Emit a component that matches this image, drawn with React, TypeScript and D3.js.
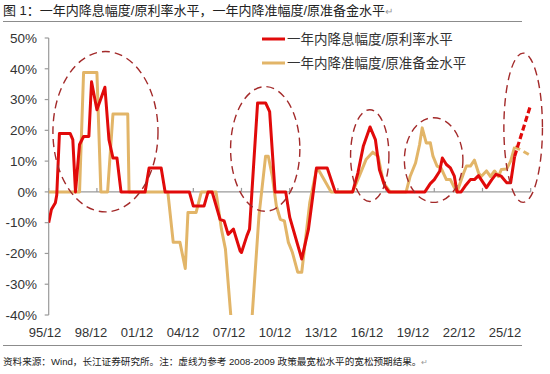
import * as d3 from 'd3';
import React from 'react';

// 一年内降息幅度/原利率水平 (实线) 与 预期 (虚线)
const rateDates = [
	'1995-12', '1996-02', '1996-05', '1996-06', '1996-08', '1997-04', '1997-06', '1997-08', '1997-11',
	'1998-02', '1998-06', '1998-08', '1998-12', '1999-06', '1999-09', '1999-12', '2000-03', '2000-06',
	'2001-12', '2002-03', '2002-12', '2003-03', '2004-09', '2004-12', '2005-08', '2005-11', '2006-02',
	'2006-08', '2006-11', '2007-02', '2007-06', '2007-11', '2007-12', '2008-04', '2008-06', '2008-12',
	'2009-06', '2009-09', '2010-01', '2010-09', '2010-12', '2011-09', '2012-02', '2012-08', '2013-04',
	'2013-10', '2014-11', '2015-03', '2015-07', '2015-12', '2016-04', '2016-07', '2016-11', '2017-02',
	'2019-05', '2019-09', '2019-12', '2020-04', '2020-06', '2020-09', '2020-12', '2021-03', '2021-05',
	'2021-08', '2021-11', '2022-03', '2022-06', '2022-09', '2022-11', '2023-03', '2023-07', '2023-10',
	'2024-02', '2024-06', '2024-09', '2024-12',
];
const rateValues = [
	-10, -5.7, -3.5, -1, 19, 19, 17, 0, 15.4,
	18, 18, 35.8, 26.7, 34, 17, 11, 11, 0,
	0, 7.8, 7.8, 0, 0, -4.6, -4.6, 0, 0,
	-8.9, -9.4, -13.8, -12.1, -19.2, -19.7, -14.3, -12.1, 28.9,
	28.9, 26.1, 0, 0, -8.2, -21.8, -12.1, 7.8, 7.8,
	0, 0, 6.2, 14.8, 21.1, 17, 7.3, 1.9, 0,
	0, 2.7, 4, 6.7, 11, 8.9, 7.8, 5.1, 0,
	0, 1.9, 4, 4, 5.3, 4, 1.4, 4, 5.7,
	5.1, 3, 3, 11.6,
];
const rateForecastDates = ['2024-12', '2025-12'];
const rateForecastValues = [11.6, 28.3];

// 一年内降准幅度/原准备金水平
const rrrDates = [
	'1995-12', '1997-11', '1998-02', '1998-12', '1999-03', '1999-08', '1999-12', '2000-11', '2000-12',
	'2003-05', '2003-09', '2004-02', '2004-06', '2004-08', '2005-02', '2005-06', '2006-05', '2006-09',
	'2006-12', '2007-04', '2007-05', '2008-07', '2008-08', '2009-01', '2009-06', '2009-08', '2009-11',
	'2010-02', '2010-05', '2010-08', '2010-11', '2011-02', '2011-06', '2011-09', '2012-03', '2012-08',
	'2012-10', '2013-07', '2014-11', '2015-04', '2015-09', '2016-02', '2016-06', '2016-10', '2017-03',
	'2018-03', '2018-06', '2018-10', '2019-01', '2019-03', '2019-06', '2019-09', '2019-11', '2020-02',
	'2020-05', '2020-09', '2020-12', '2021-03', '2021-05', '2021-10', '2021-12', '2022-03', '2022-06',
	'2022-09', '2022-11', '2023-03', '2023-06', '2023-09', '2023-12', '2024-02', '2024-06', '2024-09',
	'2024-12',
];
const rrrValues = [
	0, 0, 38.8, 38.8, 0, 0, 25.3, 25.3, 0,
	0, -16.4, -16.4, -24.9, -6.7, -6.7, 0, 0, -12.1,
	-18.6, -40, -48, -48, -40, -7.8, 11.6, 11.6, 5.1,
	-4.6, -8.9, -9.4, -16.4, -19.7, -26.1, -26.1, -3.5, 7.3,
	6.8, 0, 0, 5.1, 10.5, 12.9, 11.6, 3, 0,
	0, 5.1, 9.4, 15.4, 20.8, 15.9, 16, 11.6, 8.4,
	7.8, 4, 4, 1.4, 0, 6.2, 8.4, 8.4, 10.3,
	6.2, 5, 6.8, 5, 6.8, 5, 7.3, 7.4, 10,
	14.6,
];
const rrrForecastDates = ['2024-12', '2025-03', '2025-12'];
const rrrForecastValues = [14.6, 14, 11.8];

const yTicks = [50, 40, 30, 20, 10, 0, -10, -20, -30, -40];
const xTickDates = ['1995-12', '1998-12', '2001-12', '2004-12', '2007-12', '2010-12', '2013-12', '2016-12', '2019-12', '2022-12', '2025-12'];
const xTickLabels = ['95/12', '98/12', '01/12', '04/12', '07/12', '10/12', '13/12', '16/12', '19/12', '22/12', '25/12'];

// 虚线圈: 时间范围与数值范围
const circles = [
	{ from: '1996-03-06', to: '2002-09-20', lo: -6.5, hi: 45.6 },
	{ from: '2007-03-28', to: '2011-07-20', lo: -6.3, hi: 34.2 },
	{ from: '2014-09-15', to: '2017-02-03', lo: -3.1, hi: 26.7 },
	{ from: '2018-01-20', to: '2021-09-12', lo: -3.4, hi: 24.1 },
	{ from: '2024-03-31', to: '2026-08-25', lo: -3.4, hi: 45.1 },
];

const RED = '#E10A0A';
const GOLD = '#E2B568';
const CIRCLE = '#A32A2A';
const LATIN = '"Liberation Sans", Arial, sans-serif';
const CJK = '"Liberation Sans", "Noto Sans CJK SC", sans-serif';

const parse = d3.timeParse('%Y-%m');
const parseDay = d3.timeParse('%Y-%m-%d');

const App = () => {
	const width = 550;
	const height = 374;

	const x = d3
		.scaleTime()
		.domain([parse('1995-12') as Date, parse('2025-12') as Date])
		.range([48.7, 530.7]);
	const y = d3.scaleLinear().domain([-40, 50]).range([315, 38]);
	const xLabel = d3.scalePoint<string>().domain(xTickLabels).range([45, 505]);

	const line = d3
		.line<[string, number]>()
		.x(d => x(parse(d[0]) as Date))
		.y(d => y(d[1]));

	const zip = (a: string[], b: number[]) => a.map((d, i) => [d, b[i]] as [string, number]);

	return (
		<svg width={width} height={height} style={{ position: 'fixed', left: 0, top: 0, background: '#fff' }}>
			<defs>
				<clipPath id="plot">
					<rect x={x.range()[0]} y={y(50) - 5} width={width - x.range()[0]} height={y(-40) - y(50) + 5} />
				</clipPath>
			</defs>

			{/* 标题 */}
			<text x={3} y={15} fontFamily={CJK} fontSize={13} fill="#222">
				图 1：一年内降息幅度/原利率水平，一年内降准幅度/原准备金水平
				<tspan fill="#999" fontSize={10}>↵</tspan>
			</text>
			<line x1={3} x2={522} y1={21.5} y2={21.5} stroke="#8c8c8c" strokeWidth={1} />

			{/* y 轴 */}
			<line x1={x.range()[0]} x2={x.range()[0]} y1={y(50)} y2={y(-40)} stroke="#9a9a9a" strokeWidth={1.2} />
			{yTicks.map(t => (
				<g key={t}>
					<line x1={x.range()[0] - 4} x2={x.range()[0]} y1={y(t)} y2={y(t)} stroke="#9a9a9a" strokeWidth={1.2} />
					<text x={37} y={y(t)} dy="0.35em" textAnchor="end" fontFamily={LATIN} fontSize={13.5} fill="#333">
						{t}%
					</text>
				</g>
			))}

			{/* x 轴 (0 线) */}
			<line x1={x.range()[0]} x2={x.range()[1]} y1={y(0)} y2={y(0)} stroke="#9a9a9a" strokeWidth={1.2} />
			{xTickDates.map(d => (
				<line key={d} x1={x(parse(d) as Date)} x2={x(parse(d) as Date)} y1={y(0)} y2={y(0) - 4} stroke="#9a9a9a" strokeWidth={1.2} />
			))}
			{xTickLabels.map(l => (
				<text key={l} x={xLabel(l)} y={337} textAnchor="middle" fontFamily={LATIN} fontSize={13} fill="#333">
					{l}
				</text>
			))}

			{/* 数据线 */}
			<g clipPath="url(#plot)" fill="none" strokeLinejoin="round">
				<path d={line(zip(rrrDates, rrrValues)) || ''} stroke={GOLD} strokeWidth={3} />
				<path d={line(zip(rrrForecastDates, rrrForecastValues)) || ''} stroke={GOLD} strokeWidth={3} strokeDasharray="6,4" />
				<path d={line(zip(rateDates, rateValues)) || ''} stroke={RED} strokeWidth={3} />
				<path d={line(zip(rateForecastDates, rateForecastValues)) || ''} stroke={RED} strokeWidth={3.2} strokeDasharray="6,3" />
			</g>

			{/* 虚线圈 */}
			{circles.map((c, i) => {
				const x0 = x(parseDay(c.from) as Date);
				const x1 = x(parseDay(c.to) as Date);
				const y0 = y(c.hi);
				const y1 = y(c.lo);
				return (
					<ellipse
						key={i}
						cx={(x0 + x1) / 2}
						cy={(y0 + y1) / 2}
						rx={(x1 - x0) / 2}
						ry={(y1 - y0) / 2}
						fill="none"
						stroke={CIRCLE}
						strokeWidth={1.4}
						strokeDasharray="8,5"
					/>
				);
			})}

			{/* 图例 */}
			<line x1={262} x2={285} y1={39} y2={39} stroke={RED} strokeWidth={3} />
			<text x={287} y={39} dy="0.36em" fontFamily={CJK} fontSize={13.5} fill="#333">
				一年内降息幅度/原利率水平
			</text>
			<line x1={262} x2={285} y1={63} y2={63} stroke={GOLD} strokeWidth={3} />
			<text x={287} y={63} dy="0.36em" fontFamily={CJK} fontSize={13.5} fill="#333">
				一年内降准幅度/原准备金水平
			</text>

			{/* 来源 */}
			<line x1={3} x2={522} y1={345.5} y2={345.5} stroke="#8c8c8c" strokeWidth={1} />
			<text x={3} y={365} fontFamily={CJK} fontSize={9.6} fill="#222">
				资料来源：Wind，长江证券研究所。注：虚线为参考 2008-2009 政策最宽松水平的宽松预期结果。
				<tspan fill="#999" fontSize={8}>↵</tspan>
			</text>
		</svg>
	);
};

export default App;
